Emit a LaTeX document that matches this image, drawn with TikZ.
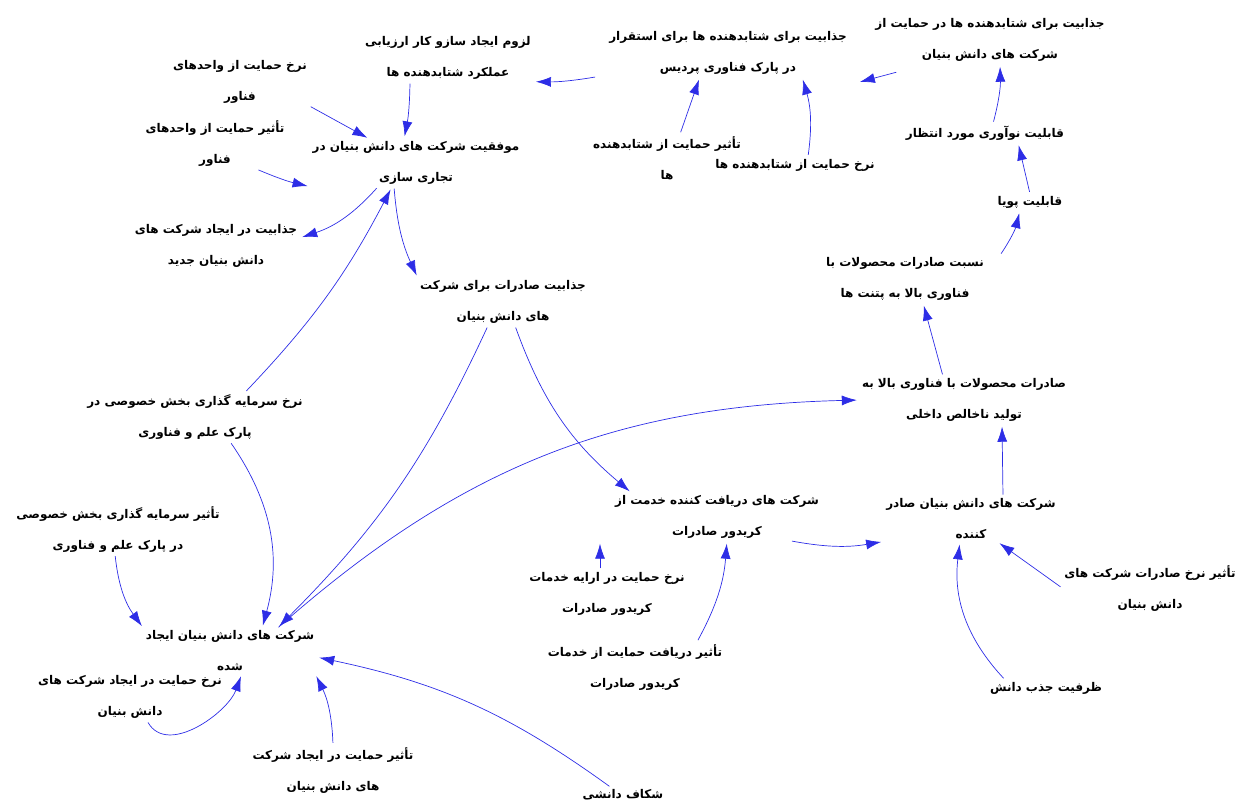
\documentclass[tikz,border=0pt]{standalone}
\usepackage{fontspec}
\usepackage{tikz}
\usetikzlibrary{arrows.meta}
\TeXXeTstate=1
\newfontfamily\farsi[Script=Arabic]{DejaVu Sans}
\definecolor{linkblue}{RGB}{45,45,230}
\tikzstyle{var} = [align=center, inner sep=2pt, font=\farsi\bfseries\fontsize{12}{31}\selectfont]
\tikzstyle{link} = [linkblue, line width=0.7pt, -{Latex[length=15pt,width=10pt]}, shorten >=3pt, shorten <=2pt]
\newcommand{\fa}[1]{\beginR #1\endR}

\begin{document}
\begin{tikzpicture}[x=1pt,y=-1pt]
  \useasboundingbox (0,0) rectangle (1250,806);
% top row
            \node[var] (lozoom) at (448,58) {\fa{لزوم ایجاد سازو کار ارزیابی}\\\fa{عملکرد شتابدهنده ها}};
            \node[var] (nerkhVahed) at (240,82) {\fa{نرخ حمایت از واحدهای}\\\fa{فناور}};
            \node[var] (tasirVahed) at (215,144) {\fa{تأثیر حمایت از واحدهای}\\\fa{فناور}};
            \node[var] (movafaghiat) at (416,163) {\fa{موفقیت شرکت های دانش بنیان در}\\\fa{تجاری سازی}};
            \node[var] (jazabPark) at (728,53) {\fa{جذابیت برای شتابدهنده ها برای استقرار}\\\fa{در پارک فناوری پردیس}};
            \node[var] (jazabHemayat) at (990,40) {\fa{جذابیت برای شتابدهنده ها در حمایت از}\\\fa{شرکت های دانش بنیان}};
            \node[var] (tasirShetab) at (667,158) {\fa{تأثیر حمایت از شتابدهنده}\\\fa{ها}};
            \node[var] (nerkhShetab) at (795,165) {\fa{نرخ حمایت از شتابدهنده ها}};
            \node[var] (noavari) at (985,133) {\fa{قابلیت نوآوری مورد انتظار}};
            \node[var] (puya) at (1030,202) {\fa{قابلیت پویا}};
% middle
            \node[var] (nesbat) at (905,279) {\fa{نسبت صادرات محصولات با}\\\fa{فناوری بالا به پتنت ها}};
            \node[var] (jazabIjad) at (216,246) {\fa{جذابیت در ایجاد شرکت های}\\\fa{دانش بنیان جدید}};
            \node[var] (jazabSaderat) at (503,302) {\fa{جذابیت صادرات برای شرکت}\\\fa{های دانش بنیان}};
            \node[var] (saderatMahsulat) at (964,400) {\fa{صادرات محصولات با فناوری بالا به}\\\fa{تولید ناخالص داخلی}};
            \node[var] (nerkhSarmaye) at (195,417) {\fa{نرخ سرمایه گذاری بخش خصوصی در}\\\fa{پارک علم و فناوری}};
            \node[var] (tasirSarmaye) at (118,529) {\fa{تأثیر سرمایه گذاری بخش خصوصی}\\\fa{در پارک علم و فناوری}};
            \node[var] (daryaft) at (717,517) {\fa{شرکت های دریافت کننده خدمت از}\\\fa{کریدور صادرات}};
            \node[var] (sader) at (971,519) {\fa{شرکت های دانش بنیان صادر}\\\fa{کننده}};
% bottom
            \node[var] (tasirNerkhSaderat) at (1150,588) {\fa{تأثیر نرخ صادرات شرکت های}\\\fa{دانش بنیان}};
            \node[var] (nerkhKaridor) at (607,594) {\fa{نرخ حمایت در ارایه خدمات}\\\fa{کریدور صادرات}};
            \node[var] (tasirKaridor) at (635,667) {\fa{تأثیر دریافت حمایت از خدمات}\\\fa{کریدور صادرات}};
            \node[var] (zarfiat) at (1046,688) {\fa{ظرفیت جذب دانش}};
            \node[var] (sherkatIjad) at (230,651) {\fa{شرکت های دانش بنیان ایجاد}\\\fa{شده}};
            \node[var] (nerkhIjad) at (130,697) {\fa{نرخ حمایت در ایجاد شرکت های}\\\fa{دانش بنیان}};
            \node[var] (tasirIjad) at (333,770) {\fa{تأثیر حمایت در ایجاد شرکت}\\\fa{های دانش بنیان}};
            \node[var] (shekaf) at (623,795) {\fa{شکاف دانشی}};

            \draw[link] ([xshift=-38]lozoom.south) to[bend left=5] ([xshift=-12]movafaghiat.north);
            \draw[link] (nerkhVahed.south east) -- ([xshift=-46]movafaghiat.north);
            \draw[link] ([xshift=-30]tasirVahed.south east) to[bend right=5] (movafaghiat.south west);
            \draw[link] ([xshift=-38]movafaghiat.south) to[bend left=15] ([yshift=8]jazabIjad.east);
            \draw[link] ([xshift=-22]movafaghiat.south) to[bend right=10] (jazabSaderat.north west);
            \draw[link] ([xshift=50]nerkhSarmaye.north) to[bend right=8] ([xshift=-24]movafaghiat.south);
            \draw[link] ([xshift=35]nerkhSarmaye.south) to[bend left=25] ([xshift=32]sherkatIjad.north);
            \draw[link] ([xshift=-3]tasirSarmaye.south) to[bend right=15] (sherkatIjad.north west);
            \draw[link] ([xshift=-15]jazabSaderat.south) to[bend left=10] ([xshift=47]sherkatIjad.north);
            \draw[link] ([xshift=12]jazabSaderat.south) to[bend right=15] ([xshift=-85]daryaft.north);
            \draw[link] ([xshift=47]sherkatIjad.north) to[bend left=20] (saderatMahsulat.west);
            \draw[link] ([xshift=-12]shekaf.north) to[bend right=12] ([yshift=-6]sherkatIjad.east);
            \draw[link] ([xshift=17]nerkhIjad.south) to[out=-60,in=-110] ([xshift=12]sherkatIjad.south);
            \draw[link] (tasirIjad.north) to[bend right=12] ([xshift=85]sherkatIjad.south);
            \draw[link] ([xshift=73]daryaft.south) to[bend right=10] (sader.south west);
            \draw[link] ([xshift=-7]nerkhKaridor.north) -- ([xshift=-117]daryaft.south);
            \draw[link] ([xshift=62]tasirKaridor.north) to[bend right=12] ([xshift=10]daryaft.south);
            \draw[link] ([xshift=-41]zarfiat.north) to[bend left=25] ([xshift=-11]sader.south);
            \draw[link] (tasirNerkhSaderat.west) -- ([xshift=26]sader.south);
            \draw[link] ([xshift=32]sader.north) -- ([xshift=38]saderatMahsulat.south);
            \draw[link] ([xshift=-21]saderatMahsulat.north) -- ([xshift=18]nesbat.south);
            \draw[link] ([xshift=95]nesbat.north) to[bend right=10] ([xshift=-10]puya.south);
            \draw[link] (puya.north) -- ([xshift=33]noavari.south);
            \draw[link] ([xshift=8]noavari.north) to[bend right=8] ([xshift=10]jazabHemayat.south);
            \draw[link] ([xshift=25,yshift=-8]jazabHemayat.south west) -- ([xshift=8,yshift=-6]jazabPark.south east);
            \draw[link] ([xshift=13]tasirShetab.north) -- ([xshift=-28]jazabPark.south);
            \draw[link] ([xshift=13]nerkhShetab.north) to[bend right=12] ([xshift=74]jazabPark.south);
            \draw[link] ([xshift=-10]jazabPark.south west) to[bend left=5] (lozoom.south east);
\end{tikzpicture}
\end{document}
